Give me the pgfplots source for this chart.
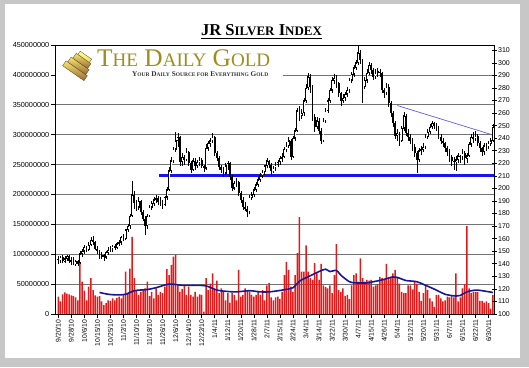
\documentclass[border=0pt]{standalone}
\usepackage{fontspec}
\setmainfont{Liberation Sans}
\newfontfamily\serif{Liberation Serif}
\usepackage{graphicx}
\usepackage{pgfplots}
\usepackage{pgfplotstable}
\pgfplotsset{compat=1.18}
\definecolor{volred}{RGB}{228,24,24}
\definecolor{maBlue}{RGB}{24,24,150}
\definecolor{lineBlue}{RGB}{20,20,245}
\definecolor{trendBlue}{RGB}{95,95,240}
\definecolor{logoGold}{RGB}{158,142,28}

\pgfplotstableread{
i o h l c v
0 144 146 140 143 29
1 143 146 141 145 21
2 145 147 141 142 33
3 142 146 141 144 36
4 144 147 142 146 34
5 146 147 141 142 33
6 142 145 139 143 31
7 143 145 139 140 30
8 140 143 138 142 28
9 142 143 138 140 23
10 141 150 140 148 85
11 148 152 145 150 54
12 150 155 148 153 39
13 153 154 149 151 23
14 151 157 150 155 46
15 155 161 154 159 60
16 159 162 155 157 40
17 157 158 151 152 31
18 152 154 148 150 29
19 150 151 144 146 30
20 146 149 144 147 21
21 147 148 142 145 15
22 145 150 144 149 18
23 149 153 147 151 23
24 151 154 149 152 22
25 152 155 149 154 26
26 154 156 151 153 23
27 153 157 152 156 27
28 156 159 154 157 29
29 157 162 155 161 26
30 161 164 158 160 32
31 160 168 159 167 71
32 167 172 165 170 35
33 170 180 168 178 76
34 178 206 177 195 129
35 195 198 184 188 60
36 188 191 182 185 40
37 185 193 183 190 32
38 190 191 179 181 37
39 181 183 174 176 40
40 176 178 163 170 43
41 170 180 168 178 54
42 178 187 177 185 30
43 185 190 183 188 37
44 188 193 186 191 26
45 191 195 188 192 43
46 192 194 187 189 32
47 189 193 186 190 37
48 190 191 184 187 35
49 187 194 186 193 46
50 193 201 191 199 75
51 199 217 198 214 65
52 214 225 212 222 82
53 222 233 220 231 96
54 231 245 229 238 99
55 238 244 233 241 48
56 241 242 218 221 37
57 221 228 218 225 42
58 225 227 219 223 48
59 223 232 222 229 32
60 229 230 218 220 46
61 220 222 212 215 32
62 215 224 214 222 29
63 222 224 215 218 37
64 218 223 216 221 29
65 221 225 218 223 33
66 223 224 216 218 32
67 218 219 213 216 4
68 216 235 215 232 60
69 232 238 230 236 40
70 236 240 233 238 51
71 238 244 236 241 68
72 241 242 226 228 40
73 228 230 222 224 56
74 224 226 215 217 35
75 217 219 212 215 43
76 215 217 209 212 37
77 212 220 211 218 23
78 218 222 215 220 35
79 220 221 207 209 19
80 209 211 198 200 35
81 200 206 199 204 32
82 204 208 201 205 23
83 205 206 194 196 74
84 196 198 188 191 29
85 191 193 183 185 32
86 185 189 182 184 43
87 184 186 177 181 40
88 181 195 180 193 37
89 193 197 191 195 32
90 195 201 193 199 29
91 199 205 197 203 32
92 203 209 201 207 37
93 207 212 205 210 32
94 210 215 208 213 40
95 213 219 211 218 23
96 218 224 216 222 48
97 222 223 216 219 52
98 219 220 211 214 28
99 214 218 212 216 23
100 216 221 214 219 28
101 219 223 217 221 29
102 221 226 219 224 25
103 224 228 221 225 37
104 225 233 224 231 65
105 231 237 229 234 87
106 234 241 232 238 74
107 238 239 223 225 46
108 225 242 224 240 37
109 240 248 238 246 65
110 246 264 245 262 102
111 262 266 254 258 162
112 258 263 255 260 71
113 260 272 258 270 71
114 270 283 268 280 115
115 280 292 278 289 71
116 289 291 276 281 60
117 281 282 254 257 57
118 257 259 245 249 85
119 249 257 247 254 68
120 254 256 243 246 57
121 246 248 235 238 84
122 238 256 237 254 48
123 254 264 252 262 45
124 262 272 260 270 43
125 270 280 268 278 48
126 278 289 276 286 35
127 286 291 283 288 65
128 288 290 280 284 117
129 284 285 273 276 40
130 276 277 266 270 37
131 270 275 268 272 43
132 272 277 270 275 30
133 275 281 273 278 32
134 278 288 276 286 25
135 286 293 284 291 48
136 291 298 289 296 65
137 296 302 294 300 68
138 300 314 298 308 54
139 308 310 299 302 93
140 302 303 268 281 60
141 281 289 279 286 54
142 286 295 284 292 57
143 292 301 290 298 56
144 298 300 291 294 57
145 294 296 286 289 46
146 289 295 287 292 48
147 292 296 289 293 50
148 293 295 289 292 62
149 292 293 276 278 60
150 278 280 272 276 57
151 276 284 274 281 84
152 281 283 265 268 60
153 268 270 257 260 62
154 260 262 249 252 68
155 252 254 239 242 74
156 242 247 238 244 62
157 244 245 234 238 51
158 238 250 237 248 37
159 248 261 246 258 35
160 258 259 242 244 35
161 244 247 238 241 48
162 241 243 235 238 48
163 238 240 230 233 41
164 233 235 225 228 54
165 228 230 212 223 51
166 223 232 221 230 37
167 230 234 227 231 22
168 231 236 229 233 35
169 233 243 231 241 48
170 241 247 239 245 40
171 245 251 243 249 26
172 249 254 247 252 21
173 252 253 247 250 12
174 250 252 246 249 32
175 249 250 239 241 32
176 241 243 235 238 26
177 238 240 233 236 21
178 236 237 229 232 23
179 232 234 226 229 29
180 229 231 221 225 28
181 225 227 218 222 30
182 222 225 215 221 28
183 221 226 214 223 68
184 223 228 220 226 21
185 226 227 220 225 28
186 225 231 223 228 43
187 228 230 219 224 50
188 224 228 220 226 147
189 226 237 225 235 43
190 235 243 233 241 35
191 241 245 236 240 37
192 240 246 238 242 37
193 242 243 234 236 37
194 236 238 229 232 22
195 232 233 226 229 22
196 229 236 227 234 19
197 234 236 230 233 21
198 233 238 231 236 18
199 236 240 234 238 9
200 238 251 237 249 32
}\pricedata

\pgfplotstableread{
i m
19 36
23 33
27 32
31 33
35 39
41 41
45 44
51 50
57 48
63 48
68 47
73 40
77 38
82 37
88 39
93 37
97 37
103 40
108 44
111 55
116 64
120 71
123 75
125 71
128 73
130 65
134 54
137 52
142 52
145 54
149 57
154 62
157 60
160 56
165 54
169 48
174 40
178 33
183 30
185 31
188 37
192 40
195 39
200 36
}\madata

\begin{document}
\begin{tikzpicture}[x=1pt,y=1pt]
\fill[black!22] (0,0) rectangle (529,367);
\fill[white] (5,9) rectangle (520,363);

% volume axis (left)
\begin{axis}[
  at={(55pt,53pt)}, anchor=south west,
  scale only axis, width=439pt, height=269pt,
  xmin=-1.5, xmax=200.5, ymin=0, ymax=450,
  ytick={0,50,...,450},
  yticklabels={0,50000000,100000000,150000000,200000000,250000000,300000000,350000000,400000000,450000000},
  xtick={0,6,...,198},
  xticklabels={9/20/10,9/28/10,10/6/10,10/15/10,10/25/10,11/2/10,11/10/10,11/18/10,11/26/10,12/6/10,12/14/10,12/22/10,1/4/11,1/12/11,1/20/11,1/28/11,2/7/11,2/15/11,2/24/11,3/4/11,3/14/11,3/22/11,3/30/11,4/7/11,4/15/11,4/26/11,5/4/11,5/12/11,5/20/11,5/31/11,6/7/11,6/15/11,6/22/11,6/30/11},
  xticklabel style={rotate=90, anchor=east, font=\fontsize{6.8}{7}\selectfont, inner sep=1.5pt},
  yticklabel style={font=\fontsize{7.3}{8}\selectfont, inner sep=1.5pt},
  ytick pos=left, xtick pos=bottom,
  tick align=outside, major tick length=4pt,
  tick style={black, line width=0.6pt},
  ymajorgrids, grid style={black!55, line width=0.7pt},
  axis line style={black, line width=0.7pt},
  /pgf/number format/assume math mode=true,
]
\addplot[ybar, bar width=1.5pt, fill=volred, draw=none] table[x=i, y=v] {\pricedata};
\addplot[maBlue, line width=1.6pt, smooth, mark=none] table[x=i, y=m] {\madata};
\end{axis}

% logo
\fill[white] (56,281) rectangle (283,319);
\begin{scope}[shift={(79,302)}, rotate=-35]
  \shade[top color=yellow!70!brown!60, bottom color=brown!80!black, draw=brown!50!black, line width=0.3pt] (-13,-10) rectangle (13,-4);
  \shade[top color=yellow!70!brown!60, bottom color=brown!80!black, draw=brown!50!black, line width=0.3pt] (-11,-4) rectangle (11,2);
  \shade[top color=yellow!70!brown!60, bottom color=brown!80!black, draw=brown!50!black, line width=0.3pt] (-9,2) rectangle (9,8);
  \shade[top color=yellow!40!white, bottom color=yellow!60!brown!70, draw=brown!50!black, line width=0.3pt] (-7,8) rectangle (7,12);
\end{scope}
\node[anchor=base west, inner sep=0, text=logoGold] at (97,300.5)
  {\resizebox{173pt}{!}{\serif\fontsize{20}{20}\selectfont T{\fontsize{15}{15}\selectfont HE} D{\fontsize{15}{15}\selectfont AILY} G{\fontsize{15}{15}\selectfont OLD}}};
\node[anchor=base west, inner sep=0, text=black!80] at (132,290.8)
  {\resizebox{136pt}{!}{\serif\bfseries\fontsize{8}{8}\selectfont Y{\fontsize{6}{6}\selectfont OUR} D{\fontsize{6}{6}\selectfont AILY} S{\fontsize{6}{6}\selectfont OURCE FOR} E{\fontsize{6}{6}\selectfont VERYTHING} G{\fontsize{6}{6}\selectfont OLD}}};

% price axis (right)
\begin{axis}[
  at={(55pt,53pt)}, anchor=south west,
  scale only axis, width=439pt, height=269pt,
  xmin=-1.5, xmax=200.5, ymin=100, ymax=314.2,
  axis y line*=right, axis x line=none,
  ytick={100,110,...,310},
  yticklabel style={font=\fontsize{7}{8}\selectfont, inner sep=1.5pt},
  tick align=center, major tick length=5pt,
  tick style={black, line width=0.6pt},
  axis line style={black, line width=0.7pt},
  /pgf/number format/assume math mode=true,
  filter discard warning=false,
]
\addplot[lineBlue, line width=2.6pt] coordinates {(46.4,210.5) (200.5,210.5)};
\addplot[trendBlue, line width=0.7pt] coordinates {(156,266) (201,242)};
% wicks
\addplot[draw=none, mark=none, error bars/.cd, y dir=both, y explicit, error mark=none,
  error bar style={black, line width=0.5pt}]
  table[x=i, y expr={(\thisrow{h}+\thisrow{l})/2}, y error expr={(\thisrow{h}-\thisrow{l})/2}] {\pricedata};
% down bodies
\addplot[draw=none, mark=none, error bars/.cd, y dir=both, y explicit, error mark=none,
  error bar style={black, line width=1.8pt}]
  table[x=i, y expr={\thisrow{c}<\thisrow{o} ? (\thisrow{o}+\thisrow{c})/2 : nan}, y error expr={(\thisrow{o}-\thisrow{c})/2}] {\pricedata};
% up bodies
\addplot[draw=none, mark=none, error bars/.cd, y dir=both, y explicit, error mark=none,
  error bar style={black, line width=1.8pt}]
  table[x=i, y expr={\thisrow{c}>=\thisrow{o} ? (\thisrow{o}+\thisrow{c})/2 : nan}, y error expr={(\thisrow{c}-\thisrow{o})/2+0.3}] {\pricedata};
\addplot[draw=none, mark=none, error bars/.cd, y dir=both, y explicit, error mark=none,
  error bar style={white, line width=0.6pt}]
  table[x=i, y expr={\thisrow{c}>=\thisrow{o}+2 ? (\thisrow{o}+\thisrow{c})/2 : nan}, y error expr={(\thisrow{c}-\thisrow{o})/2-0.8}] {\pricedata};
\end{axis}

% title
\node[anchor=base, inner sep=0] at (261.5,331.5)
  {\resizebox{121pt}{!}{\serif\bfseries\fontsize{16}{16}\selectfont JR S{\fontsize{12.5}{12.5}\selectfont ILVER} I{\fontsize{12.5}{12.5}\selectfont NDEX}}};
\draw[black, line width=0.8pt] (201,329) -- (322,329);
\end{tikzpicture}
\end{document}
